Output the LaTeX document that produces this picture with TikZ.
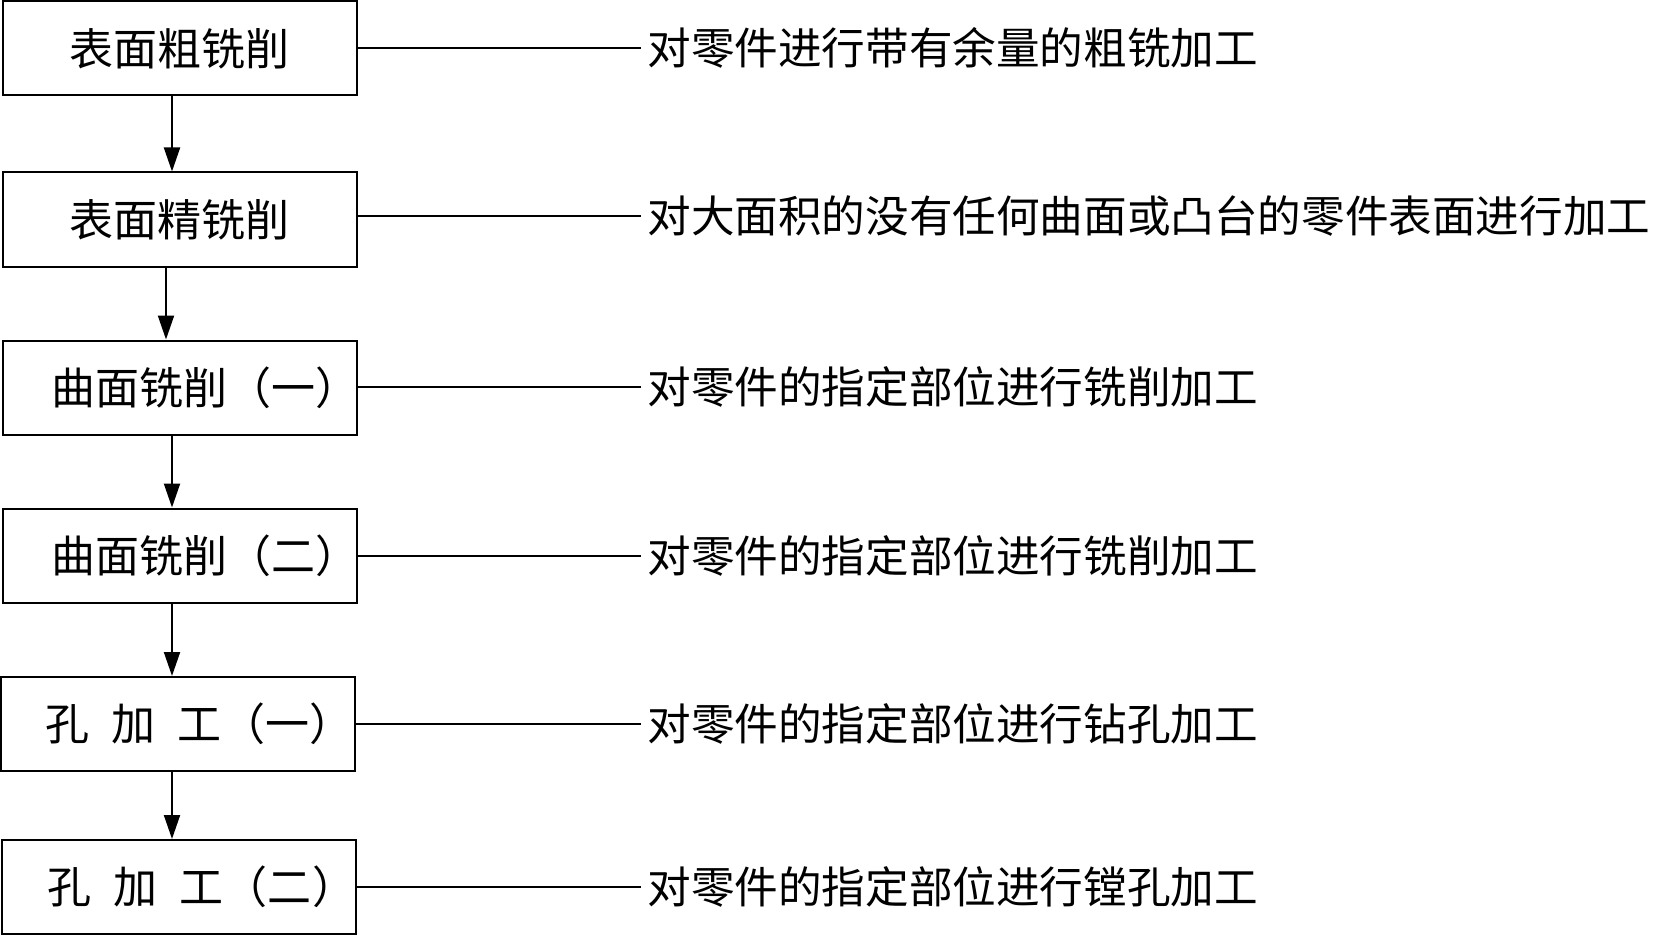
\documentclass[tikz,border=0pt]{standalone}
\usepackage{fontspec}
\newfontfamily\cjk{Noto Sans CJK SC}
\usetikzlibrary{arrows.meta}
\begin{document}
\begin{tikzpicture}[x=0.5pt,y=-0.5pt,
  box/.style={draw, line width=1pt, minimum width=177pt, minimum height=47pt, inner sep=0pt,
    font=\cjk\fontsize{22pt}{26pt}\selectfont},
  desc/.style={anchor=west, inner sep=0pt, font=\cjk\fontsize{21.8pt}{26pt}\selectfont},
  conn/.style={line width=1pt, shorten >=3pt},
  arr/.style={line width=1pt, -{Triangle[length=12pt,width=8pt]}}]
\useasboundingbox (0,0) rectangle (1653,936);
% boxes
\node[box] (b1) at (179.5,48.5) {表面粗铣削};
\node[box] (b2) at (179.5,219.5) {表面精铣削};
\node[box] (b3) at (179.5,387.5) {\makebox[177pt][l]{\hspace{24.5pt}曲面铣削（一）}};
\node[box] (b4) at (179.5,555.5) {\makebox[177pt][l]{\hspace{24.5pt}曲面铣削（二）}};
\node[box] (b5) at (177.5,724) {\makebox[177pt][l]{\hspace{22.5pt}孔\hspace{0.5em}加\hspace{0.5em}工（一）}};
\node[box] (b6) at (179,887) {\makebox[177pt][l]{\hspace{23pt}孔\hspace{0.5em}加\hspace{0.5em}工（二）}};
% descriptions
\node[desc] (d1) at (647,48) {对零件进行带有余量的粗铣加工};
\node[desc] (d2) at (647,216) {对大面积的没有任何曲面或凸台的零件表面进行加工};
\node[desc] (d3) at (647,387) {对零件的指定部位进行铣削加工};
\node[desc] (d4) at (647,556) {对零件的指定部位进行铣削加工};
\node[desc] (d5) at (647,724) {对零件的指定部位进行钻孔加工};
\node[desc] (d6) at (647,887) {对零件的指定部位进行镗孔加工};
% connectors
\foreach \i in {1,...,6} {
  \draw[conn] (b\i.east |- d\i.west) -- (d\i.west);
}
\draw[arr] ([xshift=-3.75pt]b1.south) -- ([xshift=-3.75pt]b1.south |- b2.north);
\draw[arr] ([xshift=-6.75pt]b2.south) -- ([xshift=-6.75pt]b2.south |- b3.north);
\draw[arr] ([xshift=-3.75pt]b3.south) -- ([xshift=-3.75pt]b3.south |- b4.north);
\draw[arr] ([xshift=-3.75pt]b4.south) -- ([xshift=-3.75pt]b4.south |- b5.north);
\draw[arr] ([xshift=-2.75pt]b5.south) -- ([xshift=-2.75pt]b5.south |- b6.north);
\end{tikzpicture}
\end{document}
